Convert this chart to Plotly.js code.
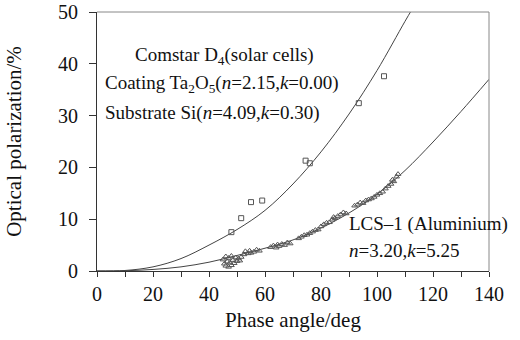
<!DOCTYPE html>
<html>
<head>
<meta charset="utf-8">
<script src="https://cdn.plot.ly/plotly-3.0.1.min.js"></script>
<style>html,body{margin:0;padding:0;background:#fff;}#chart{width:520px;height:340px;}</style>
</head>
<body>
<div id="chart"></div>
<script>
// Comstar D4 measured points (squares)
const sqX = [48, 51.5, 55, 59, 74.5, 76, 93.5, 102.5];
const sqY = [7.5, 10.2, 13.3, 13.6, 21.3, 20.8, 32.4, 37.6];

// LCS-1 measured points (triangles)
const triX = [45,45.5,46,46,46.5,47,47,47.5,48,48,48.5,49,49.5,50,50.5,51,51.5,
  52.5,53,54,54.5,55,56,57,58,
  62,63,64,64.5,65,66,67,68,69,
  72,73,74,75,76,77,78,79,
  80,81,82,83,84,84.5,85,86,87,88,89,
  92,93,94,95,96,97,98,99,100,101,102,103,
  104,105,105.5,106,107,107.5];
const triY = [2.2,1.4,2.8,1.0,1.8,0.8,2.5,1.6,1.1,2.9,2.1,1.5,2.6,1.9,2.4,2.0,2.7,
  3.2,3.8,3.4,3.9,3.5,3.7,4.1,3.9,
  4.6,4.9,4.5,5.1,4.8,5.2,5.0,5.5,5.3,
  6.3,6.6,6.9,7.0,7.3,7.6,7.9,8.0,
  8.6,9.0,9.3,9.4,9.9,10.4,10.2,10.6,10.9,11.3,11.1,
  12.6,12.8,13.2,13.1,13.6,13.8,14.0,14.3,14.7,15.0,15.3,15.9,
  16.4,16.8,17.6,17.3,18.2,18.7];

// Theoretical curves
const upX = [0,10,20,30,40,50,60,70,80,90,100,110,112.5];
const upY = [0,0.1,0.8,2.4,5.0,8.0,11.7,16.8,23.0,30.3,38.7,48.2,50.5];
const loX = [0,10,20,30,40,50,60,70,80,90,100,110,120,130,140];
const loY = [0,0.05,0.3,0.8,1.7,3.0,4.4,6.0,8.3,11.2,14.8,19.4,24.9,30.8,37.0];

const xTicks = [0,20,40,60,80,100,120,140];
const yTicks = [0,10,20,30,40,50];

const serif = 'Liberation Serif';
const lineCol = '#333';

const traces = [
  {x: upX, y: upY, mode: 'lines', line: {color: '#444', width: 1, shape: 'spline'}, hoverinfo: 'skip'},
  {x: loX, y: loY, mode: 'lines', line: {color: '#444', width: 1, shape: 'spline'}, hoverinfo: 'skip'},
  {x: sqX, y: sqY, mode: 'markers', marker: {symbol: 'square-open', size: 5, color: '#555', line: {width: 1}}},
  {x: triX, y: triY, mode: 'markers', marker: {symbol: 'triangle-up-open', size: 5, color: '#555', line: {width: 1}}}
];

const annFont = {family: serif, size: 19, color: '#111'};
const layout = {
  width: 520, height: 340,
  margin: {l: 97, r: 31, t: 12, b: 69},
  paper_bgcolor: '#fff', plot_bgcolor: '#fff',
  showlegend: false,
  font: {family: serif, color: '#111'},
  xaxis: {
    range: [0, 140], tickvals: xTicks, ticktext: xTicks.map(String),
    ticks: 'outside', ticklen: 5, tickcolor: lineCol, tickwidth: 1,
    minor: {dtick: 10, tick0: 0, ticks: 'outside', ticklen: 5, tickcolor: lineCol},
    showgrid: false, zeroline: false, showline: true, linecolor: lineCol, linewidth: 1,
    tickfont: {family: serif, size: 20, color: '#111'}, ticklabelstandoff: 0,
    title: {text: 'Phase angle/deg', font: {family: serif, size: 21, color: '#111'}, standoff: 8}
  },
  yaxis: {
    range: [0, 50], tickvals: yTicks, ticktext: yTicks.map(String),
    ticks: 'outside', ticklen: 7, tickcolor: lineCol, tickwidth: 1,
    showgrid: false, zeroline: false, showline: true, linecolor: lineCol, linewidth: 1,
    tickfont: {family: serif, size: 20, color: '#111'}, ticklabelstandoff: 7,
    title: {text: 'Optical polarization/%', font: {family: serif, size: 21, color: '#111'}, standoff: 30}
  },
  shapes: [
    {type: 'line', xref: 'paper', yref: 'paper', x0: 0, x1: 1, y0: 1, y1: 1, line: {color: '#888', width: 1}},
    {type: 'line', xref: 'paper', yref: 'paper', x0: 1, x1: 1, y0: 0, y1: 1, line: {color: '#888', width: 1}}
  ],
  annotations: [
    {x: 12.9, y: 41.5, xref: 'x', yref: 'y', xanchor: 'left', yanchor: 'middle', showarrow: false, font: annFont,
     text: 'Comstar D<sub>4</sub>(solar cells)'},
    {x: 2.1, y: 36.1, xref: 'x', yref: 'y', xanchor: 'left', yanchor: 'middle', showarrow: false, font: annFont,
     text: 'Coating Ta<sub>2</sub>O<sub>5</sub>(<i>n</i>=2.15,<i>k</i>=0.00)'},
    {x: 2.1, y: 30.5, xref: 'x', yref: 'y', xanchor: 'left', yanchor: 'middle', showarrow: false, font: annFont,
     text: 'Substrate Si(<i>n</i>=4.09,<i>k</i>=0.30)'},
    {x: 89.3, y: 9.0, xref: 'x', yref: 'y', xanchor: 'left', yanchor: 'middle', showarrow: false, font: annFont,
     text: 'LCS\u20131 (Aluminium)'},
    {x: 89.3, y: 3.9, xref: 'x', yref: 'y', xanchor: 'left', yanchor: 'middle', showarrow: false, font: annFont,
     text: '<i>n</i>=3.20,<i>k</i>=5.25'}
  ]
};

Plotly.newPlot('chart', traces, layout, {displayModeBar: false, staticPlot: true});
</script>
</body>
</html>
